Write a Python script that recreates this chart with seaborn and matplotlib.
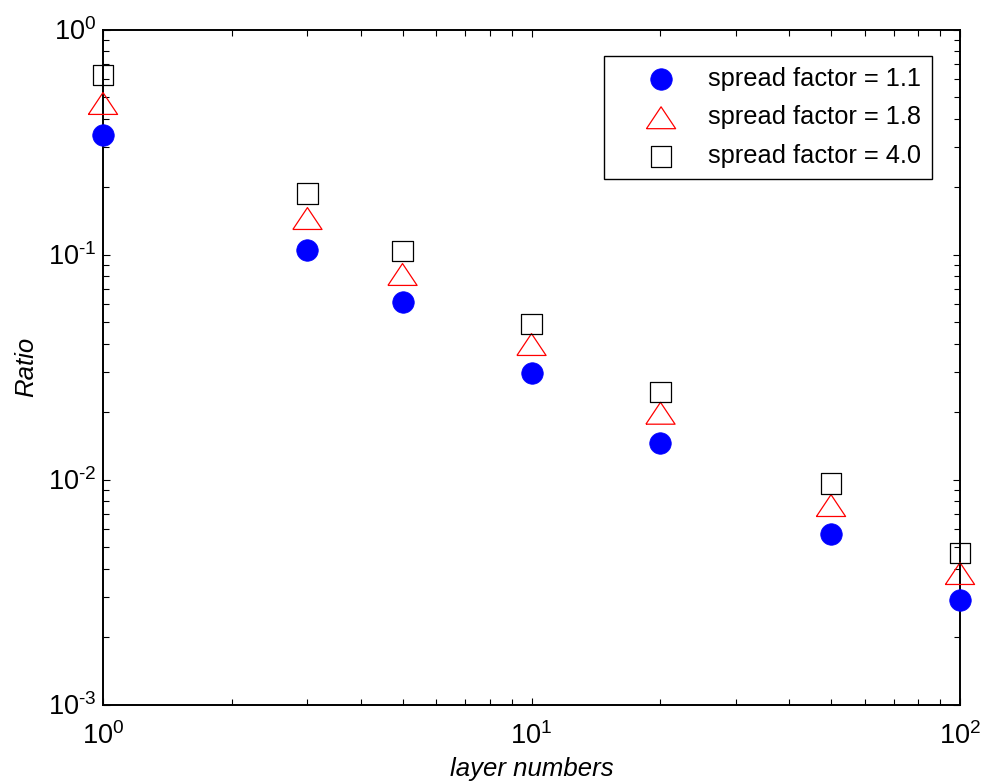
import numpy as np
import pandas as pd
import matplotlib
matplotlib.use("Agg")
import matplotlib.pyplot as plt
import matplotlib.ticker as mticker
import seaborn as sns

# ---- data ----
layers = [1, 3, 5, 10, 20, 50, 100]
ratio_sf11 = [0.338, 0.105, 0.0612, 0.0296, 0.0146, 0.0057, 0.0029]
ratio_sf18 = [0.469, 0.1445, 0.0815, 0.0398, 0.0197, 0.00766, 0.00382]
ratio_sf40 = [0.625, 0.1866, 0.104, 0.0493, 0.0244, 0.0096, 0.0047]
labels = ["spread factor = 1.1", "spread factor = 1.8", "spread factor = 4.0"]

sns.set_style("ticks")
plt.rcParams["font.family"] = ["Liberation Sans", "DejaVu Sans"]
plt.rcParams["mathtext.fontset"] = "custom"
plt.rcParams["mathtext.rm"] = "Liberation Sans"
plt.rcParams["mathtext.it"] = "Liberation Sans:italic"
plt.rcParams["mathtext.bf"] = "Liberation Sans:bold"
plt.rcParams["axes.unicode_minus"] = False
plt.rcParams["text.color"] = "black"
plt.rcParams["axes.labelcolor"] = "black"
plt.rcParams["xtick.color"] = "black"
plt.rcParams["ytick.color"] = "black"

fig = plt.figure(figsize=(9.83, 7.82), dpi=100)
ax = fig.add_axes([103 / 983, 1 - 704.5 / 782, (960 - 103) / 983, (704.5 - 29.5) / 782])

tri = [(-1.0, -0.75), (1.0, -0.75), (0.0, 0.75), (-1.0, -0.75)]

df1 = pd.DataFrame({"x": layers, "y": ratio_sf11})
df2 = pd.DataFrame({"x": layers, "y": ratio_sf18})
df3 = pd.DataFrame({"x": layers, "y": ratio_sf40})

sns.scatterplot(data=df1, x="x", y="y", ax=ax, marker="o", s=15.5**2,
                color="#0000ff", edgecolor="#0000ff", linewidth=0.5, label=labels[0],
                zorder=3, clip_on=False)
sns.scatterplot(data=df2, x="x", y="y", ax=ax, marker=tri, s=21**2,
                facecolor="none", edgecolor="#ff0000", linewidth=0.9, label=labels[1],
                zorder=3, clip_on=False)
sns.scatterplot(data=df3, x="x", y="y", ax=ax, marker="s", s=14.5**2,
                facecolor="none", edgecolor="black", linewidth=0.9, label=labels[2],
                zorder=3, clip_on=False)

ax.set_xscale("log")
ax.set_yscale("log")
ax.set_xlim(1, 100)
ax.set_ylim(1e-3, 1)


def pow10(v, pos=None):
    e = int(round(np.log10(v)))
    if e < 0:
        return r"$\mathdefault{10^{\text{-}%d}}$" % (-e)
    return r"$\mathdefault{10^{%d}}$" % e


ax.xaxis.set_major_formatter(mticker.FuncFormatter(pow10))
ax.yaxis.set_major_formatter(mticker.FuncFormatter(pow10))

for s in ax.spines.values():
    s.set_linewidth(1.4)
    s.set_color("black")
    s.set_visible(True)
    s.set_zorder(2)

ax.tick_params(which="both", direction="in", top=True, right=True, width=0.8, colors="black")
ax.tick_params(which="major", length=5, labelsize=19.5)
ax.tick_params(which="minor", length=4)
ax.tick_params(axis="y", which="major", pad=5)
ax.tick_params(axis="x", which="major", pad=13)

ax.set_xlabel("layer numbers", fontsize=18.5, style="italic", labelpad=5)
ax.set_ylabel("Ratio", fontsize=18.5, style="italic", labelpad=7)

leg = ax.legend(loc="upper right", bbox_to_anchor=(932 / 983, 1 - 56 / 782),
                bbox_transform=fig.transFigure, borderaxespad=0, fontsize=18.3,
                frameon=True, fancybox=False, edgecolor="black", framealpha=1,
                handlelength=3.66, handletextpad=0.03, borderpad=0.42, labelspacing=0.58)
leg.get_frame().set_linewidth(1.0)

fig.savefig("out.png", dpi=100)
